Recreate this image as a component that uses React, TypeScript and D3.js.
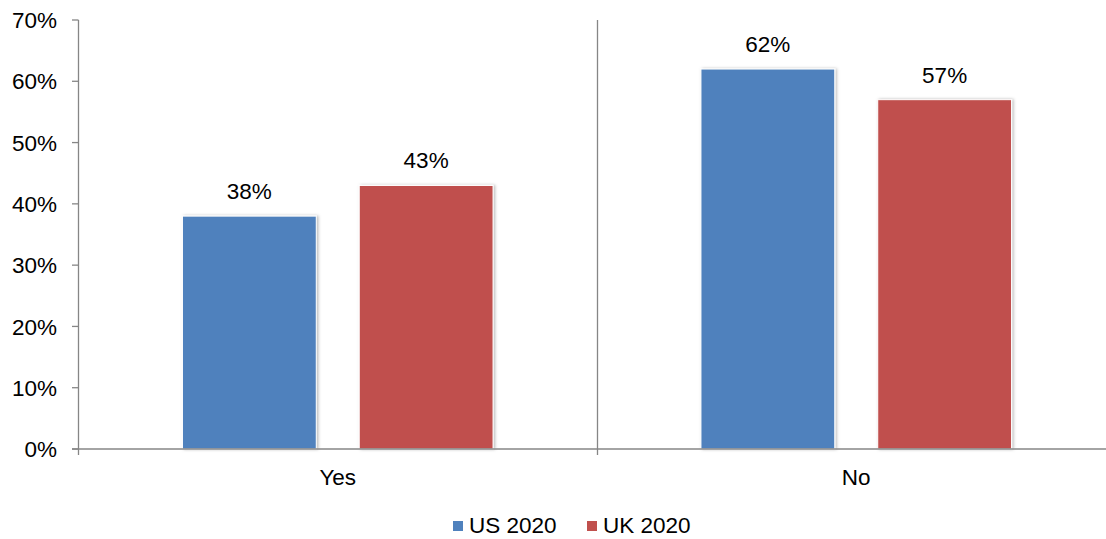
import React, { useEffect } from "react";
import * as d3 from "d3";

const categories = ["Yes", "No"];
const seriesNames = ["US 2020", "UK 2020"];
const usValues = [0.38, 0.62];
const ukValues = [0.43, 0.57];
const yTicks = [0, 0.1, 0.2, 0.3, 0.4, 0.5, 0.6, 0.7];
const colors = ["#4F81BD", "#C0504D"];

const W = 1106;
const H = 539;
const FONT = "'Liberation Sans', Arial, sans-serif";
const FS = 22.5;
const AXIS = "#868686";

export default function App() {
  useEffect(() => {
    document.body.style.margin = "0";
  }, []);

  const values = [usValues, ukValues];
  const x = d3.scaleBand<string>().domain(categories).range([78.5, 1115.5]).padding(0);
  const xi = d3
    .scaleBand<string>()
    .domain(seriesNames)
    .range([0, x.bandwidth()])
    .paddingInner(0.243)
    .paddingOuter(0.588);
  const y = d3.scaleLinear().domain([0, 0.7]).range([449, 20]);
  const fmt = d3.format(".0%");

  return (
    <svg
      width={W}
      height={H}
      style={{ position: "absolute", left: 0, top: 0, background: "#fff" }}
      fontFamily={FONT}
    >
      <defs>
        <filter id="sh" x="-10%" y="-10%" width="120%" height="120%">
          <feDropShadow dx="1.5" dy="0" stdDeviation="1.6" floodColor="#000" floodOpacity="0.28" />
        </filter>
      </defs>
      <rect width={W} height={H} fill="#fff" />
      {categories.slice(1).map((c) => (
        <line
          key={c}
          x1={Math.round(x(c)!) + 0.5}
          x2={Math.round(x(c)!) + 0.5}
          y1={y(0.7)}
          y2={455}
          stroke={AXIS}
          strokeWidth={1.3}
        />
      ))}
      {categories.map((c, ci) =>
        seriesNames.map((s, si) => {
          const v = values[si][ci];
          const bx = x(c)! + xi(s)!;
          return (
            <g key={c + s}>
              <rect
                x={bx}
                y={y(v)}
                width={xi.bandwidth()}
                height={y(0) - y(v)}
                fill={colors[si]}
                stroke="#fff"
                strokeWidth={1}
                filter="url(#sh)"
              />
              <text
                x={bx + xi.bandwidth() / 2}
                y={y(v) - 17}
                textAnchor="middle"
                fontSize={FS}
                fill="#000"
              >
                {fmt(v)}
              </text>
            </g>
          );
        })
      )}
      <line x1={78.5} x2={78.5} y1={y(0.7)} y2={455} stroke={AXIS} strokeWidth={1.3} />
      {yTicks.map((t) => (
        <g key={t}>
          <line x1={72} x2={78.5} y1={y(t)} y2={y(t)} stroke={AXIS} strokeWidth={1.3} />
          <text x={57} y={y(t)} dy="0.36em" textAnchor="end" fontSize={FS} fill="#000">
            {fmt(t)}
          </text>
        </g>
      ))}
      <line x1={72} x2={W} y1={y(0)} y2={y(0)} stroke={AXIS} strokeWidth={1.3} />
      {categories.map((c) => (
        <text
          key={c}
          x={x(c)! + x.bandwidth() / 2}
          y={485}
          textAnchor="middle"
          fontSize={FS}
          fill="#000"
        >
          {c}
        </text>
      ))}
      {seriesNames.map((s, i) => {
        const lx = [453, 587][i];
        return (
          <g key={s}>
            <rect x={lx} y={521} width={10} height={10} fill={colors[i]} />
            <text x={lx + 16} y={533} fontSize={FS} fill="#000">
              {s}
            </text>
          </g>
        );
      })}
    </svg>
  );
}
